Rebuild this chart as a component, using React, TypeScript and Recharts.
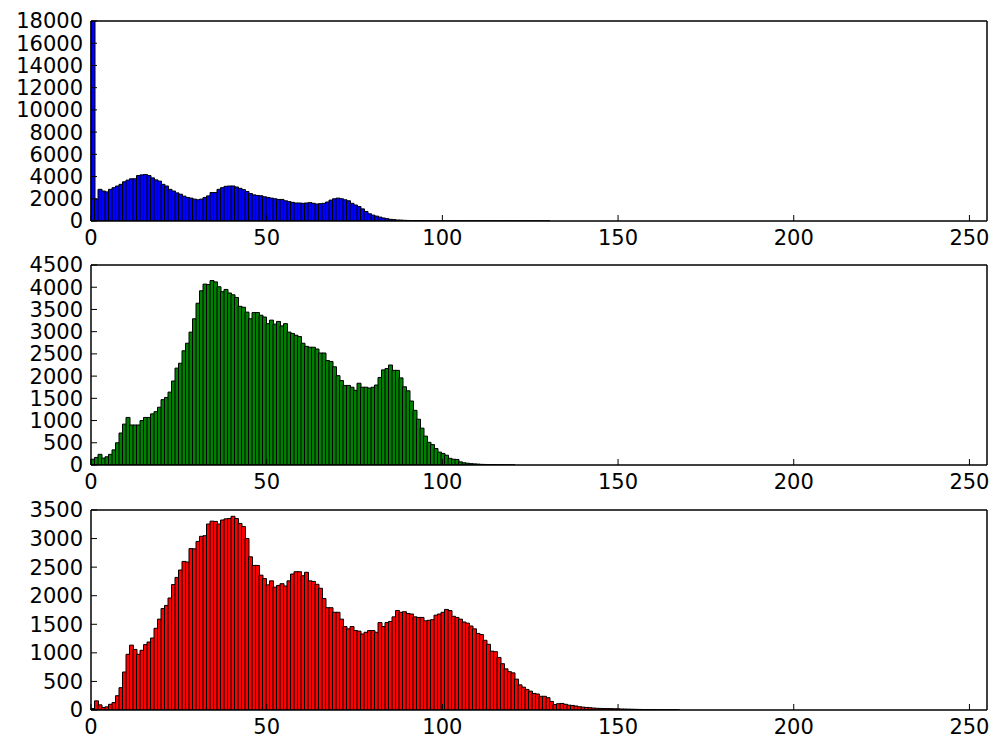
import { Bar, BarChart, XAxis, YAxis } from "recharts";

// 256 intensity bins, one bar each
const BINS = Array.from({ length: 256 }, (_, i) => i);
const X_TICKS = [0, 50, 100, 150, 200, 250];

const BLUE_TICKS = [0, 2000, 4000, 6000, 8000, 10000, 12000, 14000, 16000, 18000];
const GREEN_TICKS = [0, 500, 1000, 1500, 2000, 2500, 3000, 3500, 4000, 4500];
const RED_TICKS = [0, 500, 1000, 1500, 2000, 2500, 3000, 3500];

// counts, bin 0 upward; missing bins are empty
const BLUE = [
  18000, 1970, 2850, 2700, 2620, 2850, 3000, 3150, 3300, 3530,
  3680, 3800, 3800, 4090, 4150, 4180, 4090, 3880, 3700, 3590,
  3300, 3150, 2850, 2700, 2530, 2410, 2240, 2120, 2060, 1970,
  1910, 1970, 2120, 2260, 2560, 2560, 2850, 3000, 3120, 3150,
  3150, 3060, 2940, 2820, 2650, 2470, 2350, 2300, 2270, 2180,
  2120, 2060, 2000, 1940, 1940, 1820, 1740, 1680, 1620, 1620,
  1590, 1620, 1650, 1590, 1530, 1560, 1590, 1710, 1880, 2000,
  2060, 2000, 1910, 1820, 1590, 1440, 1300, 1090, 860, 650,
  530, 440, 350, 270, 210, 150, 120, 90, 80, 60,
  50, 40, 35, 30, 25, 20, 18, 15, 13, 12,
  10, 9, 9, 8, 8, 7, 7, 6, 6, 5,
  5, 5, 4, 4, 4, 3, 3, 3, 3, 2,
  2, 2, 2, 2, 1, 1, 1, 1, 1, 1, 1,
];

const GREEN = [
  130, 170, 240, 155, 185, 240, 340, 500, 720, 920,
  1070, 900, 900, 900, 1000, 1070, 1070, 1150, 1200, 1300,
  1470, 1520, 1640, 1890, 2180, 2290, 2570, 2740, 2990, 3290,
  3640, 3920, 4070, 4060, 4150, 4120, 4010, 3900, 3950, 3870,
  3830, 3770, 3570, 3550, 3440, 3290, 3430, 3430, 3370, 3330,
  3180, 3260, 3170, 3230, 3130, 3180, 2990, 2960, 2920, 2890,
  2740, 2670, 2650, 2650, 2610, 2520, 2520, 2350, 2330, 2210,
  2010, 1900, 1790, 1790, 1750, 1680, 1840, 1750, 1750, 1730,
  1750, 1800, 1970, 2140, 2170, 2250, 2130, 2130, 1960, 1760,
  1670, 1440, 1230, 1030, 830, 650, 510, 460, 370, 290,
  260, 220, 150, 130, 125, 70, 50, 40, 30, 25,
  20, 15, 12, 10, 8, 6, 5, 4, 3, 2, 2,
];

const RED = [
  25, 160, 90, 45, 55, 100, 130, 250, 390, 665,
  975, 1135, 1060, 975, 1045, 1145, 1190, 1260, 1430, 1590,
  1775, 1830, 1960, 2195, 2320, 2450, 2600, 2590, 2825, 2820,
  2950, 3040, 3050, 3255, 3305, 3300, 3255, 3325, 3345, 3350,
  3390, 3350, 3265, 3210, 3000, 2680, 2530, 2530, 2360, 2300,
  2190, 2260, 2150, 2180, 2210, 2170, 2260, 2380, 2420, 2420,
  2350, 2410, 2260, 2250, 2200, 2130, 1950, 1790, 1790, 1710,
  1710, 1590, 1460, 1420, 1460, 1390, 1380, 1330, 1360, 1390,
  1390, 1360, 1530, 1460, 1530, 1550, 1630, 1740, 1710, 1720,
  1690, 1680, 1630, 1620, 1620, 1560, 1570, 1580, 1660, 1680,
  1710, 1760, 1740, 1640, 1620, 1590, 1540, 1520, 1470, 1420,
  1340, 1320, 1220, 1150, 1030, 1020, 920, 810, 720, 670,
  650, 540, 440, 400, 360, 330, 290, 280, 240, 240,
  215, 150, 95, 110, 115, 100, 85, 80, 70, 57,
  50, 45, 40, 34, 30, 28, 26, 25, 24, 22,
  20, 18, 16, 15, 13, 12, 10, 9, 8, 7,
  6, 5, 4, 4, 3, 3, 2, 2,
];

const FONT = { fill: "#000", fontSize: 21, fontFamily: "DejaVu Sans" };
const LINE = { stroke: "#000", strokeWidth: 1.5 };

function Hist({
  values,
  color,
  yMax,
  yTicks,
  top,
}: {
  values: number[];
  color: string;
  yMax: number;
  yTicks: number[];
  top: number;
}) {
  const data = BINS.map((b) => ({ bin: b, count: values[b] ?? 0 }));
  return (
    <div style={{ position: "absolute", left: 0, top }}>
      <BarChart
        width={994}
        height={265}
        data={data}
        margin={{ top: 20, right: 6, bottom: 0, left: 0 }}
        barCategoryGap={0}
        barGap={0}
      >
        <XAxis
          xAxisId="num"
          type="number"
          domain={[0, 256]}
          ticks={X_TICKS}
          interval={0}
          allowDataOverflow
          height={44}
          tickSize={-6}
          tickMargin={15}
          tick={FONT}
          axisLine={LINE}
          tickLine={{ stroke: "#000" }}
        />
        <XAxis xAxisId="cat" dataKey="bin" hide height={0} />
        <XAxis
          xAxisId="top"
          orientation="top"
          type="number"
          domain={[0, 256]}
          ticks={X_TICKS}
          interval={0}
          allowDataOverflow
          height={1}
          tickSize={-6}
          tick={false}
          axisLine={LINE}
          tickLine={{ stroke: "#000" }}
        />
        <YAxis
          yAxisId="l"
          type="number"
          domain={[0, yMax]}
          ticks={yTicks}
          interval={0}
          allowDataOverflow
          width={91}
          tickSize={-6}
          tickMargin={14}
          tick={FONT}
          axisLine={LINE}
          tickLine={{ stroke: "#000" }}
        />
        <YAxis
          yAxisId="r"
          orientation="right"
          type="number"
          domain={[0, yMax]}
          ticks={yTicks}
          interval={0}
          allowDataOverflow
          width={1}
          tickSize={-6}
          tick={false}
          axisLine={LINE}
          tickLine={{ stroke: "#000" }}
        />
        <Bar
          xAxisId="cat"
          yAxisId="l"
          dataKey="count"
          fill={color}
          stroke="#000"
          strokeWidth={1}
          isAnimationActive={false}
        />
      </BarChart>
    </div>
  );
}

export default function App() {
  return (
    <div
      style={{
        position: "absolute",
        left: 0,
        top: 0,
        width: 994,
        height: 745,
        overflow: "hidden",
        background: "#fff",
      }}
    >
      <Hist values={BLUE} color="#0000ff" yMax={18000} yTicks={BLUE_TICKS} top={0} />
      <Hist values={GREEN} color="#008000" yMax={4500} yTicks={GREEN_TICKS} top={244} />
      <Hist values={RED} color="#ff0000" yMax={3500} yTicks={RED_TICKS} top={489} />
    </div>
  );
}
